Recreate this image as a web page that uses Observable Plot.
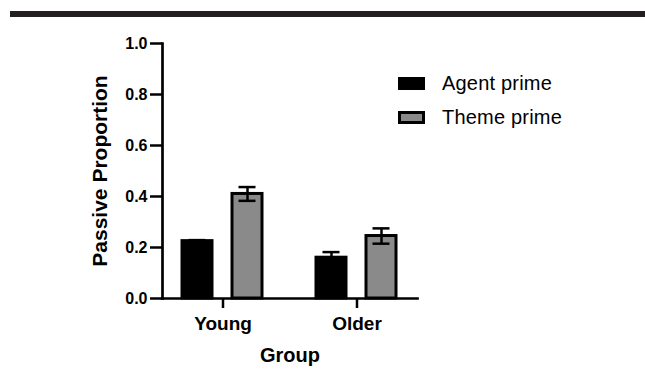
<!DOCTYPE html>
<html><head><meta charset="utf-8">
<script src="https://cdn.jsdelivr.net/npm/d3@7"></script>
<script src="https://cdn.jsdelivr.net/npm/@observablehq/plot@0.6"></script>
<style>
body{margin:0;background:#fff;font-family:"Liberation Sans",Arial,Helvetica,sans-serif;}
#wrap{position:relative;width:645px;height:377px;overflow:hidden;}
#rule{position:absolute;left:10px;top:11px;width:635px;height:6px;background:#231f20;}
#chart{position:absolute;left:0;top:0;}
#legend{position:absolute;left:398px;top:72px;}
.row{display:flex;align-items:center;height:22px;margin-bottom:12px;}
.sw{width:27px;height:13px;box-sizing:border-box;border:3px solid #000;margin-right:17px;}
.lab{font-size:20px;color:#000;white-space:nowrap;letter-spacing:0.2px;}
g[aria-label="y-axis tick label"]{font-size:16px;font-weight:bold;}
g[aria-label="fx-axis tick label"]{font-size:19px;font-weight:bold;}
g[aria-label="y-axis label"]{font-size:21px;font-weight:bold;}
g[aria-label="fx-axis label"]{font-size:20px;font-weight:bold;}
</style></head><body>
<div id="wrap"><div id="rule"></div><div id="chart"></div><div id="legend"></div></div>
<script>
const groups = ["Young", "Older"];
const primes = ["Agent prime", "Theme prime"];
const colors = ["#000000", "#8a8a8a"];
const agentMeans = [0.225, 0.16];
const agentErrs = [0.004, 0.022];
const themeMeans = [0.41, 0.245];
const themeErrs = [0.027, 0.03];
const yTicks = [0, 0.2, 0.4, 0.6, 0.8, 1.0];

const rows = [];
groups.forEach((g, i) => {
  rows.push({group: g, prime: primes[0], mean: agentMeans[i], err: agentErrs[i]});
  rows.push({group: g, prime: primes[1], mean: themeMeans[i], err: themeErrs[i]});
});

const plot = Plot.plot({
  width: 645, height: 377,
  marginLeft: 161, marginRight: 227, marginTop: 43, marginBottom: 79,
  style: {fontFamily: "Liberation Sans, Arial, Helvetica, sans-serif", color: "#000", background: "transparent"},
  fx: {domain: groups, paddingInner: 0.096, paddingOuter: 0, axis: null},
  x: {domain: primes, padding: 0.392, axis: null},
  y: {domain: [0, 1], axis: null},
  color: {domain: primes, range: colors},
  marks: [
    Plot.barY(rows, {fx: "group", x: "prime", y: "mean", fill: "prime", stroke: "#000", strokeWidth: 3}),
    Plot.ruleX(rows, {fx: "group", x: "prime", y1: d => d.mean - d.err, y2: d => d.mean + d.err, stroke: "#000", strokeWidth: 2.5}),
    Plot.tickY(rows, {fx: "group", x: "prime", y: d => d.mean + d.err, insetLeft: 6.5, insetRight: 6.5, stroke: "#000", strokeWidth: 2.5}),
    Plot.tickY(rows, {fx: "group", x: "prime", y: d => d.mean - d.err, insetLeft: 6.5, insetRight: 6.5, stroke: "#000", strokeWidth: 2.5}),
    Plot.frame({anchor: "bottom", facet: "super", stroke: "#000", strokeWidth: 2.7}),
    Plot.frame({anchor: "left", facet: "super", stroke: "#000", strokeWidth: 2.7}),
    Plot.axisY({ticks: yTicks, tickFormat: d3.format(".1f"), tickSize: 12, tickPadding: 3, strokeWidth: 2.5,
      label: "Passive Proportion", labelAnchor: "center", labelOffset: 70, labelArrow: "none"}),
    Plot.axisFx({anchor: "bottom", tickSize: 10, tickPadding: 8, strokeWidth: 2.5,
      label: "Group", labelAnchor: "center", labelOffset: 63, labelArrow: "none"})
  ]
});
document.getElementById("chart").appendChild(plot);

const legend = document.getElementById("legend");
primes.forEach((p, i) => {
  const row = document.createElement("div");
  row.className = "row";
  const sw = document.createElement("div");
  sw.className = "sw";
  sw.style.background = colors[i];
  const lab = document.createElement("span");
  lab.className = "lab";
  lab.textContent = p;
  row.appendChild(sw); row.appendChild(lab);
  legend.appendChild(row);
});
</script>
</body></html>
